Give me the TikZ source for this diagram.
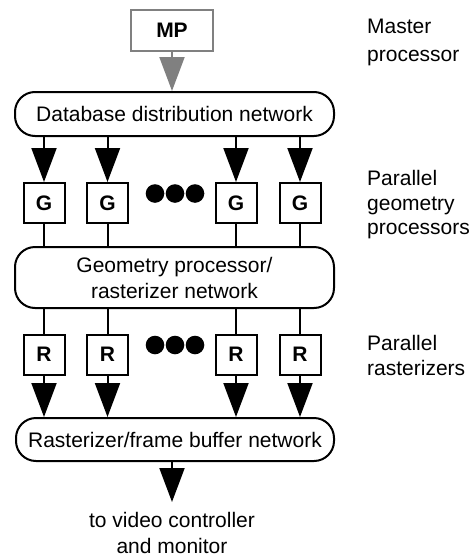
\documentclass[tikz,border=0pt]{standalone}
\usepackage{fontspec}
\setmainfont{Liberation Sans}
\usetikzlibrary{arrows.meta}
\definecolor{mpgray}{RGB}{128,128,128}
\tikzset{
  every node/.style={font=\fontsize{21}{26}\selectfont, inner sep=0pt},
  netbox/.style={draw, line width=2pt, rounded corners=20pt, align=center},
  procbox/.style={draw, line width=2pt, minimum width=41pt, minimum height=40pt, font=\fontsize{21}{26}\selectfont\bfseries},
  link/.style={line width=2pt},
  feed/.style={line width=2pt, -{Triangle[width=25pt,length=34pt]}},
  dot/.style={fill=black, draw=none},
  sidelabel/.style={anchor=base west},
}
\begin{document}
\begin{tikzpicture}[x=1pt, y=-1pt]
  \useasboundingbox (0,0) rectangle (471,557);

  % master processor
  \node[draw=mpgray, line width=2pt, minimum width=82pt, minimum height=41pt,
        font=\fontsize{21}{26}\selectfont\bfseries] (mp) at (172,30) {MP};

  % networks
  \node[netbox, minimum width=319pt, minimum height=44pt] (db) at (174.5,114) {Database distribution network};
  \node[netbox, minimum width=319pt, minimum height=61pt] (gr) at (174.5,277.5) {Geometry processor/\\rasterizer network};
  \node[netbox, minimum width=318pt, minimum height=43pt] (rf) at (175,439.5) {Rasterizer/frame buffer network};

  % geometry processors
  \node[procbox] (g1) at (44,203) {G};
  \node[procbox] (g2) at (107.5,203) {G};
  \node[procbox] (g3) at (236,203) {G};
  \node[procbox] (g4) at (300,203) {G};

  % rasterizers
  \node[procbox] (r1) at (44,354.5) {R};
  \node[procbox] (r2) at (107.5,354.5) {R};
  \node[procbox] (r3) at (236,354.5) {R};
  \node[procbox] (r4) at (300,354.5) {R};

  % ellipsis dots
  \foreach \cx in {155,175,195} {
    \fill[dot] (\cx,193.5) circle (9.3pt);
    \fill[dot] (\cx,345) circle (9.3pt);
  }

  % connectors
  \draw[feed, draw=mpgray, fill=mpgray] (mp.south) -- (mp.south |- db.north);
  \foreach \n in {g1,g2,g3,g4} {
    \draw[feed] (\n.north |- db.south) -- (\n.north);
    \draw[link] (\n.south) -- (\n.south |- gr.north);
  }
  \foreach \n in {r1,r2,r3,r4} {
    \draw[link] (\n.north |- gr.south) -- (\n.north);
    \draw[feed] (\n.south) -- (\n.south |- rf.north);
  }
  \coordinate (out) at (172,502);
  \draw[feed] (out |- rf.south) -- (out);

  % output label
  \node[anchor=base] (vc1) at (172,527) {to video controller};
  \node[anchor=base] (vc2) at (172,553) {and monitor};

  % side labels
  \node[sidelabel] (l1) at (367,33) {Master};
  \node[sidelabel] (l2) at (367,61) {processor};
  \node[sidelabel] (l3) at (367,185) {Parallel};
  \node[sidelabel] (l4) at (367,210) {geometry};
  \node[sidelabel] (l5) at (367,234) {processors};
  \node[sidelabel] (l6) at (367,350) {Parallel};
  \node[sidelabel] (l7) at (367,375) {rasterizers};
\end{tikzpicture}
\end{document}
